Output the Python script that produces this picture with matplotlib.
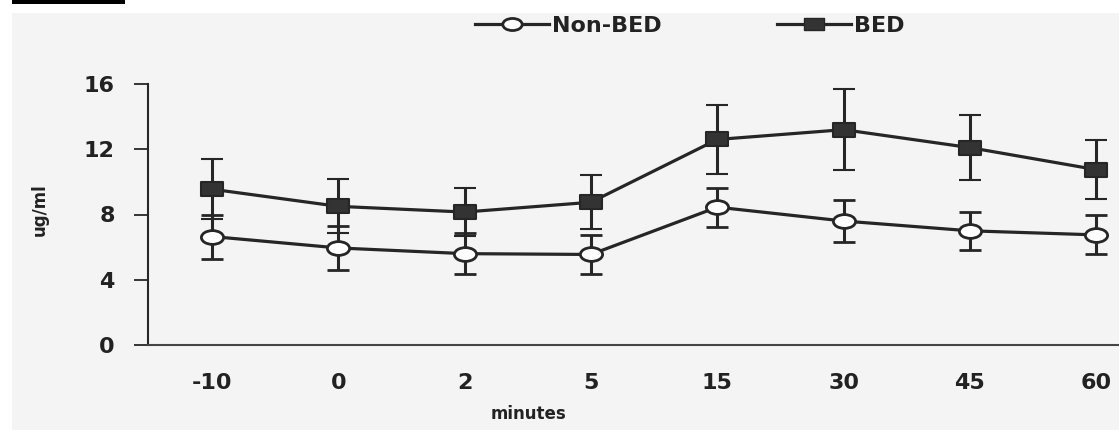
import numpy as np
import matplotlib
matplotlib.use("Agg")
import matplotlib.pyplot as plt
import matplotlib.path as mpath
from matplotlib.patches import Rectangle
from matplotlib.lines import Line2D

# ==== Data ====
minutes = ["-10", "0", "2", "5", "15", "30", "45", "60"]
bed_mean = [9.55, 8.5, 8.15, 8.75, 12.6, 13.2, 12.1, 10.75]
bed_err = [1.85, 1.65, 1.45, 1.65, 2.1, 2.5, 2.0, 1.8]
nonbed_mean = [6.65, 5.95, 5.6, 5.55, 8.45, 7.6, 7.0, 6.75]
nonbed_err = [1.35, 1.35, 1.25, 1.2, 1.2, 1.3, 1.15, 1.2]
y_ticks = [0, 4, 8, 12, 16]

plt.rcParams['font.family'] = ['DejaVu Sans']
plt.rcParams['font.weight'] = 'bold'

ink = "#262626"

# the scan is stretched sideways, so the markers are wider than tall
circ = mpath.Path.unit_circle()
ellipse = mpath.Path(circ.vertices * [1, 0.62], circ.codes)
flat_sq = mpath.Path([(-1, -0.62), (1, -0.62), (1, 0.62), (-1, 0.62), (-1, -0.62)],
                     [1, 2, 2, 2, 79])

fig = plt.figure(figsize=(11.19, 4.30), dpi=100)
fig.patch.set_facecolor("white")
fig.patches.append(Rectangle((12 / 1119, 0), 1, 1 - 13 / 430, transform=fig.transFigure,
                             facecolor="#f4f4f4", edgecolor="none", zorder=-10))
fig.patches.append(Rectangle((12 / 1119, 1 - 4 / 430), 113 / 1119, 4 / 430,
                             transform=fig.transFigure, facecolor="black",
                             edgecolor="none", zorder=-5))

ax = fig.add_axes([148 / 1119, 85 / 430, 1 - 148 / 1119, 261 / 430])
ax.set_facecolor("none")
x = np.arange(len(minutes))

ax.errorbar(x, nonbed_mean, yerr=nonbed_err, color=ink, lw=2.3, elinewidth=2.2,
            capsize=8, capthick=2.2, marker=ellipse, markersize=16,
            markerfacecolor="white", markeredgecolor=ink, markeredgewidth=2,
            zorder=3)
ax.errorbar(x, bed_mean, yerr=bed_err, color=ink, lw=2.3, elinewidth=2.2,
            capsize=8, capthick=2.2, marker=flat_sq, markersize=16,
            markerfacecolor="#333333", markeredgecolor=ink, markeredgewidth=1.5,
            zorder=4)

ax.set_xlim(-0.506, 7.18)
ax.set_ylim(0, 16)
ax.set_yticks(y_ticks)
ax.set_xticks(x)
ax.set_xticklabels(minutes)
ax.tick_params(axis='y', length=10, width=1.3, color=ink, pad=14, labelsize=16)
ax.tick_params(axis='x', length=0, pad=20, labelsize=16)
for lab in ax.get_xticklabels() + ax.get_yticklabels():
    lab.set_color("#222222")
for s in ["top", "right"]:
    ax.spines[s].set_visible(False)
ax.spines["left"].set_color(ink)
ax.spines["left"].set_linewidth(1.5)
ax.spines["bottom"].set_color("#444444")
ax.spines["bottom"].set_linewidth(1.5)

fig.text(528 / 1119, 1 - 414 / 430, "minutes", ha="center", va="center",
         fontsize=12, color="#222222")
fig.text(40 / 1119, 1 - 210 / 430, "ug/ml", ha="center", va="center",
         rotation=90, fontsize=12, color="#222222")

handles = [
    Line2D([], [], color=ink, lw=2.3, marker=ellipse, markersize=14,
           markerfacecolor="white", markeredgecolor=ink, markeredgewidth=2),
    Line2D([], [], color=ink, lw=2.3, marker=flat_sq, markersize=14,
           markerfacecolor="#333333", markeredgecolor=ink),
]
leg = ax.legend(handles, ["Non-BED", "BED"], loc="center",
                bbox_to_anchor=(690 / 1119, 1 - 26 / 430),
                bbox_transform=fig.transFigure, ncol=2, frameon=False, fontsize=16,
                handlelength=3.3, handletextpad=0.15, columnspacing=5.2)
for t in leg.get_texts():
    t.set_color("#222222")

fig.savefig("out.png", dpi=100, facecolor=fig.get_facecolor())
